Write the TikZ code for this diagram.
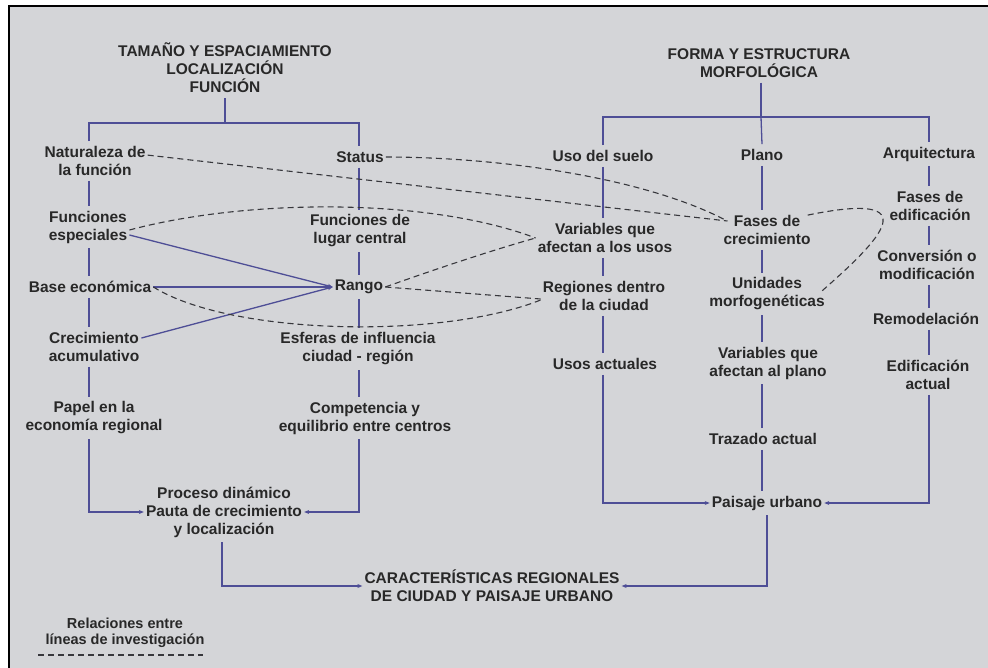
\documentclass[tikz,border=0pt]{standalone}
\usepackage{fontspec}
\setmainfont{Liberation Sans}
\usetikzlibrary{arrows.meta,calc}
\definecolor{bg}{RGB}{212,213,216}
\definecolor{lk}{RGB}{78,78,150}
\definecolor{tx}{RGB}{40,40,40}
\definecolor{dsh}{RGB}{55,55,60}
\tikzset{
  lbl/.style={font=\fontsize{15.5}{18}\selectfont\bfseries, text=tx, align=center, inner xsep=2pt, inner ysep=5pt},
  leg/.style={font=\fontsize{14.5}{16.5}\selectfont\bfseries, text=tx, align=center},
  link/.style={draw=lk, line width=1.3pt},
  arr/.style={link, -{Stealth[length=5pt,width=4pt]}},
  rel/.style={draw=dsh, line width=1.1pt, dash pattern=on 6pt off 4pt},
}
\begin{document}
\begin{tikzpicture}[x=1pt,y=-1pt]
\useasboundingbox (0,0) rectangle (988,668);
\fill[white] (0,0) rectangle (988,668);
\fill[bg] (9,6) rectangle (988,668);
\draw[black, line width=2pt] (9,668) -- (9,6) -- (988,6);

% columns
\coordinate (colA) at (89,0);
\coordinate (colB) at (359,0);
\coordinate (colU) at (603,0);
\coordinate (colP) at (762,0);
\coordinate (colR) at (929,0);
\coordinate (brA) at (224,123);
\coordinate (brB) at (761,117);

% left tree
\node[lbl] (h1) at (225,68) {TAMAÑO Y ESPACIAMIENTO\\LOCALIZACIÓN\\FUNCIÓN};
\node[lbl] (nat) at (95,161) {Naturaleza de\\la función};
\node[lbl] (fesp) at (88,227) {Funciones\\especiales};
\node[lbl] (base) at (90,287) {Base económica};
\node[lbl] (crec) at (94,347) {Crecimiento\\acumulativo};
\node[lbl] (papel) at (94,418) {Papel en la\\economía regional};
\node[lbl] (stat) at (360,157) {Status};
\node[lbl] (flc) at (360,231) {Funciones de\\lugar central};
\node[lbl] (rango) at (359,287) {Rango};
\node[lbl] (esf) at (358,349) {Esferas de influencia\\ciudad - región};
\node[lbl] (comp) at (365,418) {Competencia y\\equilibrio entre centros};
\node[lbl] (proc) at (224,512) {Proceso dinámico\\Pauta de crecimiento\\y localización};
\node[lbl] (car) at (492,586) {CARACTERÍSTICAS REGIONALES\\DE CIUDAD Y PAISAJE URBANO};

% right tree
\node[lbl] (h2) at (759,63) {FORMA Y ESTRUCTURA\\MORFOLÓGICA};
\node[lbl] (uso) at (603,156) {Uso del suelo};
\node[lbl] (plano) at (762,155) {Plano};
\node[lbl] (arq) at (929,154) {Arquitectura};
\node[lbl] (vau) at (605,238) {Variables que\\afectan a los usos};
\node[lbl] (reg) at (604,296) {Regiones dentro\\de la ciudad};
\node[lbl] (usos) at (605,364) {Usos actuales};
\node[lbl] (fcre) at (767,230) {Fases de\\crecimiento};
\node[lbl] (unid) at (767,294) {Unidades\\morfogenéticas};
\node[lbl] (vap) at (768,363) {Variables que\\afectan al plano};
\node[lbl] (traz) at (763,439) {Trazado actual};
\node[lbl] (pais) at (767,503) {Paisaje urbano};
\node[lbl] (fed) at (930,206) {Fases de\\edificación};
\node[lbl] (conv) at (927,265) {Conversión o\\modificación};
\node[lbl] (remo) at (926,319) {Remodelación};
\node[lbl] (edif) at (928,375) {Edificación\\actual};

% legend
\node[leg] (legt) at (125,633) {Relaciones entre\\líneas de investigación};
\coordinate (lg1) at (38,655);
\coordinate (lg2) at (203,655);
\draw[rel] (lg1) -- (lg2);

% left tree links
\draw[link] (h1.south) -- (h1.south |- brA);
\draw[link] (nat.north -| colA) |- (brA) -| (stat.north -| colB);
\draw[link] (nat.south -| colA) -- (fesp.north -| colA);
\draw[link] (fesp.south -| colA) -- (base.north -| colA);
\draw[link] (base.south -| colA) -- (crec.north -| colA);
\draw[link] (crec.south -| colA) -- (papel.north -| colA);
\draw[arr] (papel.south -| colA) |- (proc.west);
\draw[link] (stat.south -| colB) -- (flc.north -| colB);
\draw[link] (flc.south -| colB) -- (rango.north -| colB);
\draw[link] (rango.south -| colB) -- (esf.north -| colB);
\draw[link] (esf.south -| colB) -- (comp.north -| colB);
\draw[arr] (comp.south -| colB) |- (proc.east);
\draw[arr] ([xshift=-2pt]proc.south) |- (car.west);

\draw[arr] ([yshift=-8pt]fesp.east) -- (rango.west);
\draw[arr] (base.east) -- (rango.west);
\draw[arr] ([yshift=9pt]crec.east) -- (rango.west);

% right tree links
\draw[link] (h2.south -| brB) -- (brB);
\draw[link] (uso.north -| colU) |- (brB) -| (arq.north -| colR);
\draw[link] (brB) -- (plano.north -| colP);
\draw[link] (uso.south -| colU) -- (vau.north -| colU);
\draw[link] (vau.south -| colU) -- (reg.north -| colU);
\draw[link] (reg.south -| colU) -- (usos.north -| colU);
\draw[arr] (usos.south -| colU) |- (pais.west);
\draw[link] (plano.south -| colP) -- (fcre.north -| colP);
\draw[link] (fcre.south -| colP) -- (unid.north -| colP);
\draw[link] (unid.south -| colP) -- (vap.north -| colP);
\draw[link] (vap.south -| colP) -- (traz.north -| colP);
\draw[link] (traz.south -| colP) -- (pais.north -| colP);
\draw[link] (arq.south -| colR) -- (fed.north -| colR);
\draw[link] (fed.south -| colR) -- (conv.north -| colR);
\draw[link] (conv.south -| colR) -- (remo.north -| colR);
\draw[link] (remo.south -| colR) -- (edif.north -| colR);
\draw[arr] (edif.south -| colR) |- (pais.east);
\draw[arr] (pais.south) |- (car.east);

% relations (dashed)
\draw[rel] ([yshift=-14pt]nat.north east) -- ([xshift=6pt,yshift=9pt]fcre.west);
\draw[rel] (stat.east) .. controls (490,157) and (640,175) .. ([xshift=6pt,yshift=9pt]fcre.west);
\draw[rel] ([yshift=-3pt]fesp.east) .. controls (250,198) and (430,198) .. (vau.west);
\draw[rel] (rango.east) .. controls (450,264) and (500,248) .. (vau.west);
\draw[rel] (rango.east) -- ([yshift=-3pt]reg.west);
\draw[rel] (base.east) .. controls (230,335) and (440,340) .. ([yshift=-4pt]reg.west);
\draw[rel] ([xshift=-5pt,yshift=-5pt]fcre.north east) .. controls (930,190) and (880,240) .. ([xshift=-5pt,yshift=3pt]unid.east);
\end{tikzpicture}
\end{document}
